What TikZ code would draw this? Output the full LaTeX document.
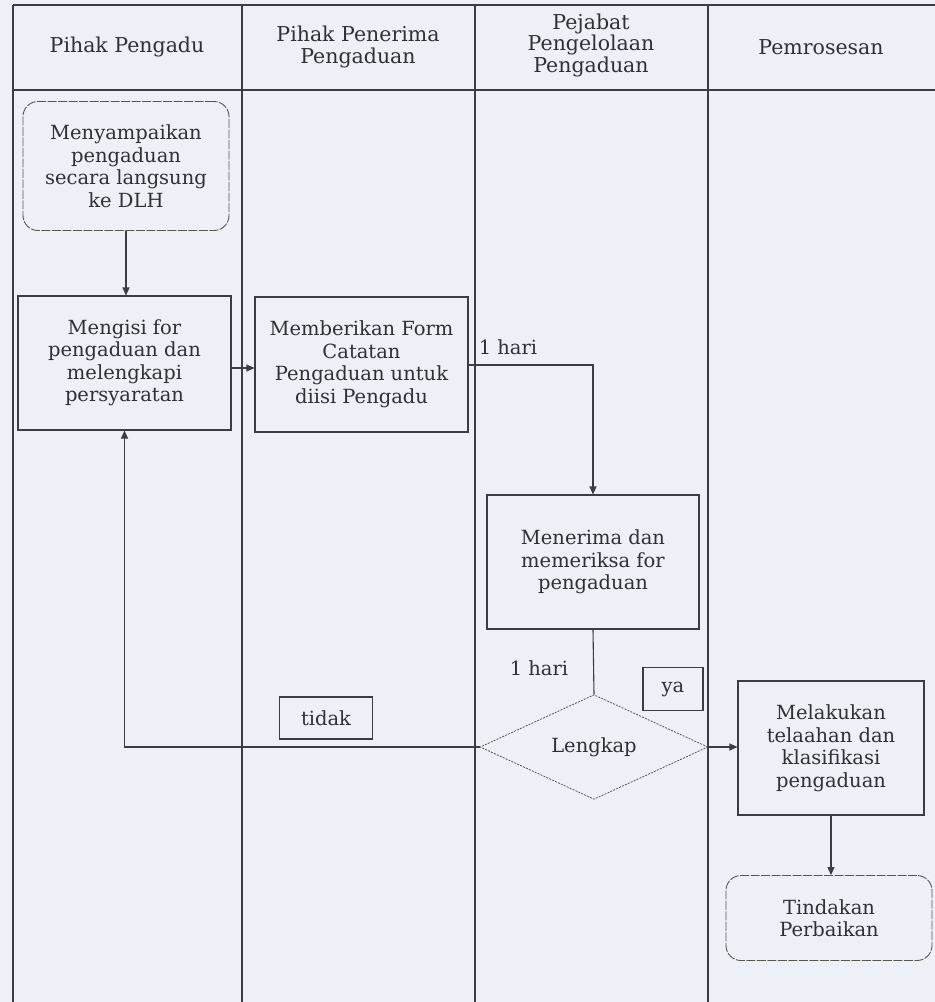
\documentclass[tikz,border=0pt]{standalone}
\usepackage{fontspec}
\setmainfont{DejaVu Serif}
\usetikzlibrary{arrows.meta,shapes.geometric}
\definecolor{paper}{RGB}{237,240,246}
\definecolor{ink}{RGB}{48,48,52}
\definecolor{rule}{RGB}{60,60,66}
\definecolor{softrule}{RGB}{88,86,78}
\tikzset{
  lane/.style={draw=rule,line width=1.1pt},
  txt/.style={font=\fontsize{19.5}{22.5}\selectfont,text=ink,align=center},
  head/.style={txt,font=\fontsize{20.5}{21.5}\selectfont},
  proc/.style={txt,draw=rule,line width=1.1pt,rectangle,inner sep=0pt},
  term/.style={txt,draw=softrule,line width=0.9pt,rectangle,rounded corners=15pt,
    inner sep=0pt,dash pattern=on 9pt off 1.5pt},
  decide/.style={txt,draw=softrule,diamond,inner sep=0pt,line width=0.8pt,
    dash pattern=on 2pt off 1.2pt},
  tag/.style={txt,draw=rule,line width=1.1pt,rectangle,inner sep=0pt},
  flow/.style={draw=rule,line width=1.1pt},
  arr/.style={flow,-{Triangle[length=8pt,width=7pt]}}
}
\begin{document}
\begin{tikzpicture}[x=1pt,y=-1pt]
\fill[paper] (0,0) rectangle (935,1002);
\useasboundingbox (0,0) rectangle (935,1002);

% swimlane frame
\draw[lane] (13,5) -- (935,5);
\draw[lane] (13,90) -- (935,90);
\foreach \lx in {13,242,475,708} \draw[lane] (\lx,5) -- (\lx,1002);

% lane headings
\node[head] (h1) at (127,47) {Pihak Pengadu};
\node[head] (h2) at (358,47) {Pihak Penerima\\Pengaduan};
\node[head] (h3) at (591,45) {Pejabat\\Pengelolaan\\Pengaduan};
\node[head] (h4) at (821,47) {Pemrosesan};

% steps
\node[term,minimum width=206pt,minimum height=129pt] (start) at (126,166)
  {Menyampaikan\\pengaduan\\secara langsung\\ke DLH};
\node[proc,minimum width=213pt,minimum height=134pt] (fill) at (124.5,363)
  {Mengisi for\\pengaduan dan\\melengkapi\\persyaratan};
\node[proc,minimum width=213pt,minimum height=135pt] (give) at (361.5,364.5)
  {Memberikan Form\\Catatan\\Pengaduan untuk\\diisi Pengadu};
\node[proc,minimum width=212pt,minimum height=134pt] (recv) at (593,562)
  {Menerima dan\\memeriksa for\\pengaduan};
\node[decide,minimum width=228pt,minimum height=95pt] (dec) at (594,747) {Lengkap};
\node[proc,minimum width=186pt,minimum height=134pt] (act) at (831,748)
  {Melakukan\\telaahan dan\\klasifikasi\\pengaduan};
\node[term,minimum width=206pt,minimum height=85pt] (fix) at (829,918)
  {Tindakan\\Perbaikan};

% branch tags and durations
\node[tag,minimum width=60pt,minimum height=43pt] (ya) at (673,689) {ya};
\node[tag,minimum width=93pt,minimum height=42pt] (tidak) at (326,718) {tidak};
\node[txt] (d1) at (508,347) {1 hari};
\node[txt] (d2) at (539,668) {1 hari};

% connectors
\draw[arr] (start.south) -- (start.south |- fill.north);
\draw[arr] (fill.east |- 0,368) -- (give.west |- 0,368);
\draw[arr] (give.east |- 0,365) -| (recv.north);
\draw[flow] (recv.south) -- (dec.north);
\draw[arr] (dec.west) -| (fill.south);
\draw[arr] (dec.east) -- (act.west |- dec.east);
\draw[arr] (act.south) -- (act.south |- fix.north);
\end{tikzpicture}
\end{document}
